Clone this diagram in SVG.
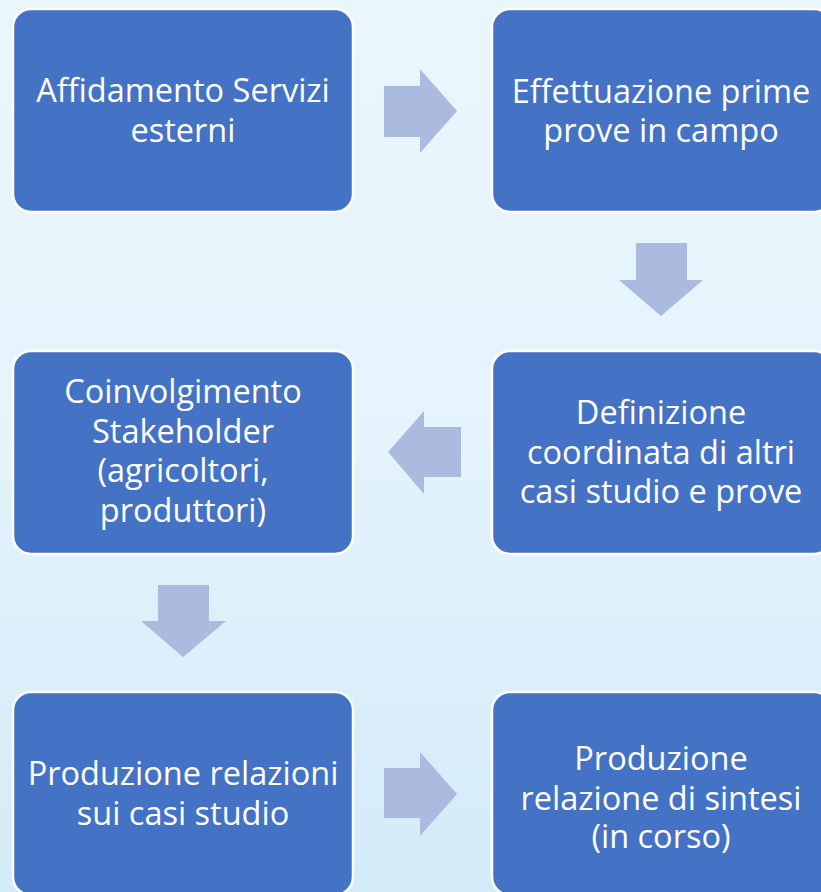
<svg xmlns="http://www.w3.org/2000/svg" width="821" height="892" viewBox="0 0 821 892">
  <defs>
    <linearGradient id="bg" x1="0" y1="0" x2="0" y2="1">
      <stop offset="0" stop-color="#EAF6FD"/>
      <stop offset="0.5" stop-color="#E4F3FC"/>
      <stop offset="1" stop-color="#D3EBF8"/>
    </linearGradient>
  </defs>
  <style>
    .box { fill: #4472C4; stroke: #FFFFFF; stroke-width: 2.5; }
    .lbl { font-family: "Open Sans", "Noto Sans", sans-serif; font-size: 32.5px; fill: #FFFFFF; text-anchor: middle; }
    .arr { fill: #ABBADF; }
  </style>
  <rect x="0" y="0" width="821" height="892" fill="url(#bg)"/>

  <g id="connectors">
    <polygon class="arr" points="384,86 420,86 420,69 457,111 420,153 420,137 384,137"/>
    <polygon class="arr" points="636,243 687,243 687,280 703,280 661,316 619,280 636,280"/>
    <polygon class="arr" points="461,427 424,427 424,411 388,452 424,494 424,477 461,477"/>
    <polygon class="arr" points="158,585 209,585 209,621 226,621 183,657 141,621 158,621"/>
    <polygon class="arr" points="384,768 420,768 420,752 457,794 420,836 420,818 384,818"/>
  </g>

  <g id="node-affidamento">
    <rect class="box" x="13" y="9" width="340" height="203" rx="18"/>
    <text class="lbl" x="183" y="102">Affidamento Servizi</text>
    <text class="lbl" x="183" y="142">esterni</text>
  </g>
  <g id="node-effettuazione">
    <rect class="box" x="492" y="9" width="340" height="203" rx="18"/>
    <text class="lbl" x="661" y="103">Effettuazione prime</text>
    <text class="lbl" x="661" y="142">prove in campo</text>
  </g>
  <g id="node-coinvolgimento">
    <rect class="box" x="13" y="351" width="340" height="203" rx="18"/>
    <text class="lbl" x="183" y="403">Coinvolgimento</text>
    <text class="lbl" x="183" y="443">Stakeholder</text>
    <text class="lbl" x="183" y="482">(agricoltori,</text>
    <text class="lbl" x="183" y="522">produttori)</text>
  </g>
  <g id="node-definizione">
    <rect class="box" x="492" y="351" width="340" height="203" rx="18"/>
    <text class="lbl" x="661" y="424">Definizione</text>
    <text class="lbl" x="661" y="464">coordinata di altri</text>
    <text class="lbl" x="661" y="503">casi studio e prove</text>
  </g>
  <g id="node-relazioni">
    <rect class="box" x="13" y="692" width="340" height="203" rx="18"/>
    <text class="lbl" x="183" y="785">Produzione relazioni</text>
    <text class="lbl" x="183" y="825">sui casi studio</text>
  </g>
  <g id="node-sintesi">
    <rect class="box" x="492" y="692" width="340" height="203" rx="18"/>
    <text class="lbl" x="661" y="770">Produzione</text>
    <text class="lbl" x="661" y="810">relazione di sintesi</text>
    <text class="lbl" x="661" y="848">(in corso)</text>
  </g>
</svg>
